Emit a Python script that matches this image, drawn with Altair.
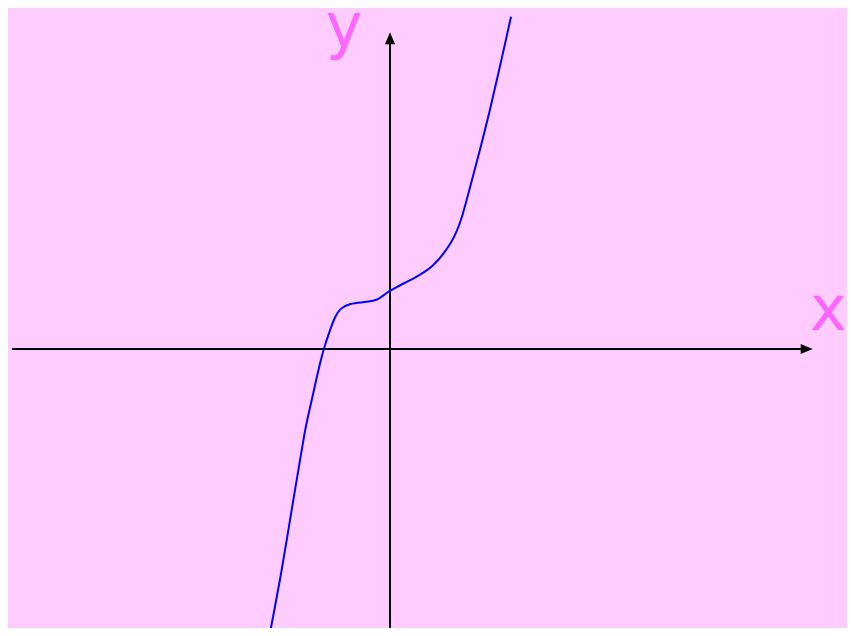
import altair as alt
import pandas as pd

# curve samples (x, y)
curve_x = [-2.01, -1.917, -1.813, -1.712, -1.612, -1.508, -1.417, -1.363, -1.308, -1.238,
           -1.173, -1.112, -1.0, -0.917, -0.833, -0.667, -0.445, -0.278, -0.167, -0.083,
           0.0, 0.083, 0.25, 0.417, 0.583, 0.695, 0.805, 0.917, 1.028, 1.112,
           1.195, 1.278, 1.5, 1.667, 1.833, 2.017]
curve_y = [-4.783, -4.295, -3.738, -3.128, -2.517, -1.905, -1.35, -1.108, -0.867, -0.55,
           -0.267, -0.017, 0.317, 0.538, 0.678, 0.762, 0.778, 0.8, 0.845, 0.917,
           0.967, 1.017, 1.105, 1.188, 1.288, 1.372, 1.483, 1.622, 1.788, 1.955,
           2.178, 2.483, 3.317, 3.983, 4.705, 5.538]

# axis extents
x_axis_from, x_axis_to, x_tip = -6.3, 7.0, 7.045
y_axis_from, y_axis_to, y_tip = -4.65, 5.1, 5.278
x_domain = [-6.367, 7.617]
y_domain = [-4.65, 5.683]

labels = ["x", "y"]
label_x = [7.0, -0.767]
label_y = [0.317, 5.03]

xs = alt.Scale(domain=x_domain, nice=False, zero=False)
ys = alt.Scale(domain=y_domain, nice=False, zero=False)

curve_df = pd.DataFrame({"x": curve_x, "y": curve_y})
line = alt.Chart(curve_df).mark_line(color="#0000ff", strokeWidth=2, interpolate="basis", clip=True).encode(
    x=alt.X("x:Q", scale=xs, axis=None),
    y=alt.Y("y:Q", scale=ys, axis=None),
)

xaxis_df = pd.DataFrame({"x": [x_axis_from], "x2": [x_axis_to], "y": [0.0]})
xaxis = alt.Chart(xaxis_df).mark_rule(color="black", strokeWidth=2).encode(
    x=alt.X("x:Q", scale=xs, axis=None), x2="x2:Q", y=alt.Y("y:Q", scale=ys, axis=None)
)
yaxis_df = pd.DataFrame({"y": [y_axis_from], "y2": [y_axis_to], "x": [0.0]})
yaxis = alt.Chart(yaxis_df).mark_rule(color="black", strokeWidth=2).encode(
    y=alt.Y("y:Q", scale=ys, axis=None), y2="y2:Q", x=alt.X("x:Q", scale=xs, axis=None)
)

xarrow = alt.Chart(pd.DataFrame({"x": [x_tip], "y": [0.0]})).mark_point(
    shape="M0,0L-1,-0.42L-1,0.42Z", size=576, filled=True, color="black", opacity=1
).encode(x=alt.X("x:Q", scale=xs, axis=None), y=alt.Y("y:Q", scale=ys, axis=None))
yarrow = alt.Chart(pd.DataFrame({"x": [0.0], "y": [y_tip]})).mark_point(
    shape="M0,0L0.42,1L-0.42,1Z", size=576, filled=True, color="black", opacity=1
).encode(x=alt.X("x:Q", scale=xs, axis=None), y=alt.Y("y:Q", scale=ys, axis=None))

lab_df = pd.DataFrame({"t": labels, "x": label_x, "y": label_y})
xlab = alt.Chart(lab_df.iloc[[0]]).mark_text(
    align="left", baseline="alphabetic", fontSize=62, font="DejaVu Sans", color="#ff66ff"
).encode(x=alt.X("x:Q", scale=xs, axis=None), y=alt.Y("y:Q", scale=ys, axis=None), text="t:N")
ylab = alt.Chart(lab_df.iloc[[1]]).mark_text(
    align="center", baseline="alphabetic", fontSize=62, font="DejaVu Sans", color="#ff66ff"
).encode(x=alt.X("x:Q", scale=xs, axis=None), y=alt.Y("y:Q", scale=ys, axis=None), text="t:N")

chart = alt.layer(xaxis, yaxis, xarrow, yarrow, line, xlab, ylab).properties(
    width=839, height=620, background="#ffccff", padding=0,
    autosize=alt.AutoSizeParams(type="none")
).configure_view(stroke=None)

chart.save("out.html", embed_options={"renderer": "svg", "actions": False})
